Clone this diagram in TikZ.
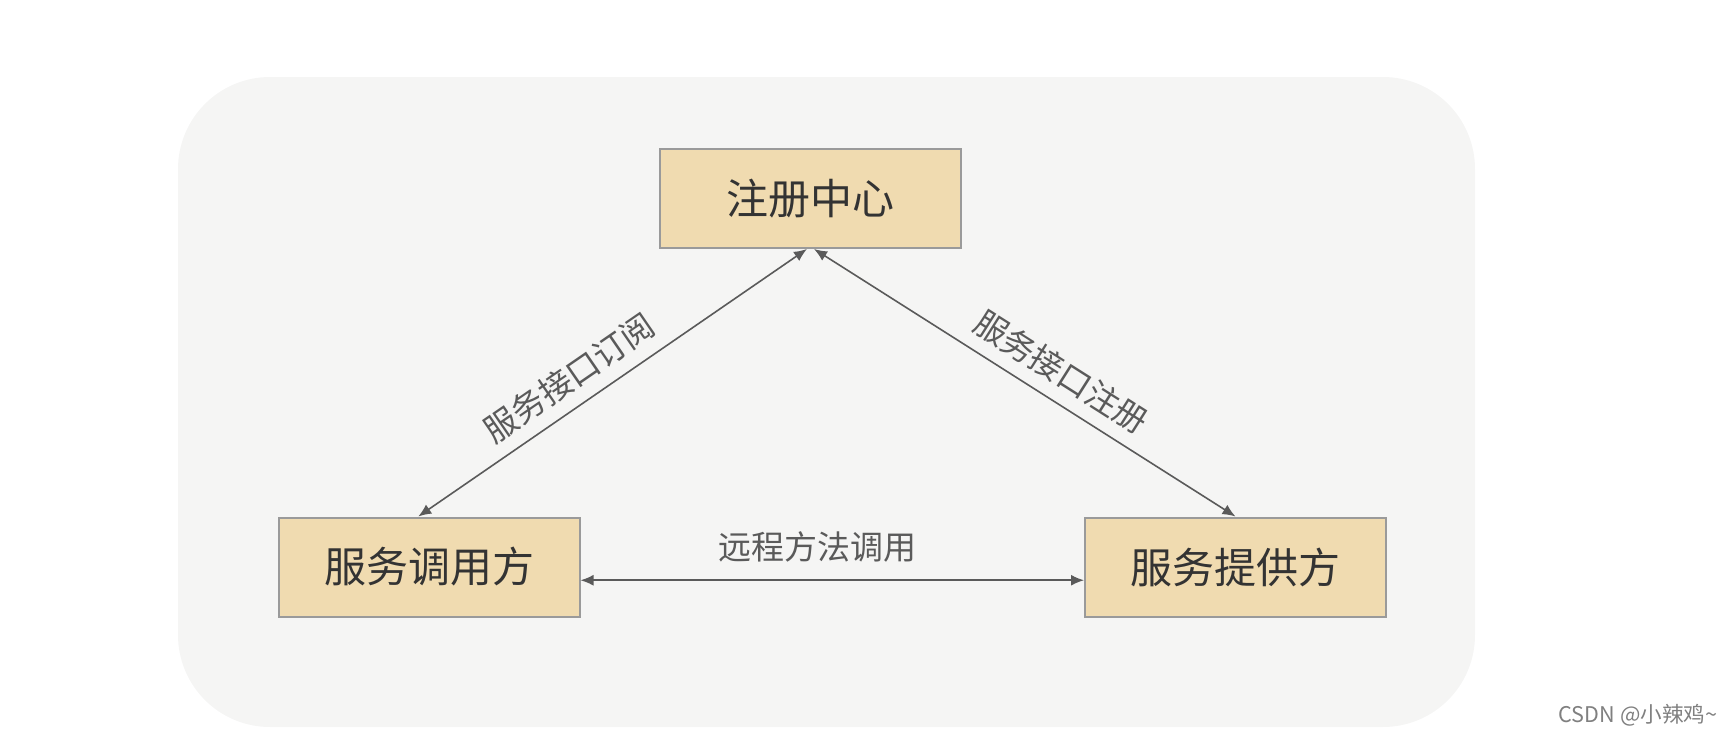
\documentclass[tikz,border=0pt]{standalone}
\usepackage{fontspec}
\newfontfamily\cjk{Noto Sans CJK SC}
\usetikzlibrary{arrows.meta}
\definecolor{panelbg}{HTML}{F5F5F4}
\definecolor{boxfill}{HTML}{F0DBB0}
\definecolor{boxline}{HTML}{9A9A9A}
\definecolor{arrowgray}{HTML}{5A5A5A}
\definecolor{textdark}{HTML}{333333}

\begin{document}
\begin{tikzpicture}[x=0.5pt,y=-0.5pt,
  role/.style={draw=boxline,line width=1pt,fill=boxfill,minimum width=150.5pt,minimum height=49.5pt,inner sep=0pt,text=textdark,font=\cjk\fontsize{21}{25}\selectfont},
  link/.style={draw=arrowgray,line width=0.8pt,{Latex[length=6.5pt,width=5.5pt]}-{Latex[length=6.5pt,width=5.5pt]}},
  tag/.style={text=arrowgray,font=\cjk\fontsize{16.5}{20}\selectfont}]
\useasboundingbox (0,0) rectangle (1726,734);
\fill [panelbg, rounded corners=46pt] (178,77) rectangle (1475,727);
\node[role] (registry) at (810.5,198.5) {注册中心};
\node[role] (caller) at (429,567) {服务调用方};
\node[role] (provider) at (1235.5,567) {服务提供方};
\draw[link] (caller.102) -- node[tag,pos=0.43,sloped,above=3pt] {服务接口订阅} (registry.266);
\draw[link] (registry.274) -- node[tag,pos=0.55,sloped,above=3pt] {服务接口注册} (provider.north);
\draw[link] (caller.-5) -- node[tag,pos=0.47,above=5pt] {远程方法调用} (provider.185);
\node[text=gray,font=\cjk\fontsize{10.8}{12}\selectfont] (mark) at (1638,715) {CSDN @小辣鸡\textasciitilde};
\end{tikzpicture}
\end{document}
